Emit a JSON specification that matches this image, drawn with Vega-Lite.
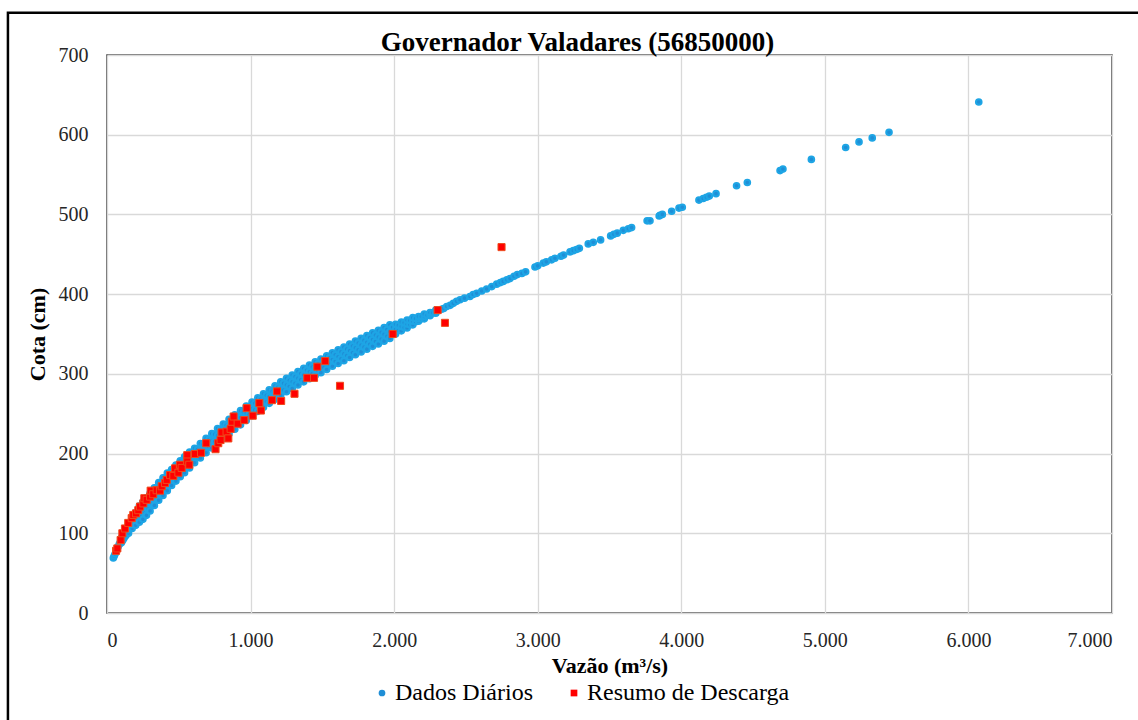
{
  "$schema": "https://vega.github.io/schema/vega-lite/v6.json",
  "width": 1005,
  "height": 558,
  "autosize": {"type": "none"},
  "padding": {"left": 107, "top": 55, "right": 26, "bottom": 107},
  "background": "white",
  "title": {
    "text": "Governador Valadares (56850000)",
    "font": "Liberation Serif",
    "fontSize": 27,
    "fontWeight": "bold",
    "color": "#000000",
    "anchor": "middle",
    "frame": "group",
    "dx": -32,
    "offset": -66,
    "baseline": "alphabetic"
  },
  "datasets": {
    "diarios": [
      {"vazao": 44, "cota": 69}, {"vazao": 50, "cota": 71.5}, {"vazao": 56, "cota": 74}, {"vazao": 63, "cota": 77},
      {"vazao": 70, "cota": 80}, {"vazao": 77, "cota": 83}, {"vazao": 85, "cota": 86}, {"vazao": 92, "cota": 88.5},
      {"vazao": 100, "cota": 88}, {"vazao": 100, "cota": 91}, {"vazao": 100, "cota": 94},
      {"vazao": 108, "cota": 90.5}, {"vazao": 108, "cota": 93.5}, {"vazao": 108, "cota": 96.5},
      {"vazao": 116, "cota": 93}, {"vazao": 116, "cota": 96}, {"vazao": 116, "cota": 99},
      {"vazao": 124, "cota": 95.5}, {"vazao": 124, "cota": 98.5}, {"vazao": 124, "cota": 101.5},
      {"vazao": 133, "cota": 97.5}, {"vazao": 133, "cota": 100.5}, {"vazao": 133, "cota": 103.5},
      {"vazao": 150, "cota": 100}, {"vazao": 150, "cota": 105}, {"vazao": 150, "cota": 110},
      {"vazao": 175, "cota": 106}, {"vazao": 175, "cota": 111}, {"vazao": 175, "cota": 116},
      {"vazao": 188, "cota": 111}, {"vazao": 188, "cota": 118},
      {"vazao": 200, "cota": 110}, {"vazao": 200, "cota": 118}, {"vazao": 200, "cota": 126},
      {"vazao": 212, "cota": 116.5}, {"vazao": 212, "cota": 125.5},
      {"vazao": 225, "cota": 114}, {"vazao": 225, "cota": 124}, {"vazao": 225, "cota": 134},
      {"vazao": 237, "cota": 121}, {"vazao": 237, "cota": 132},
      {"vazao": 250, "cota": 117.5}, {"vazao": 250, "cota": 128.5}, {"vazao": 250, "cota": 139.5},
      {"vazao": 262, "cota": 125.5}, {"vazao": 262, "cota": 136.5},
      {"vazao": 275, "cota": 122.5}, {"vazao": 275, "cota": 133.5}, {"vazao": 275, "cota": 144.5},
      {"vazao": 287, "cota": 130.5}, {"vazao": 287, "cota": 142},
      {"vazao": 300, "cota": 128}, {"vazao": 300, "cota": 139}, {"vazao": 300, "cota": 150},
      {"vazao": 315, "cota": 137}, {"vazao": 315, "cota": 148},
      {"vazao": 330, "cota": 135}, {"vazao": 330, "cota": 146}, {"vazao": 330, "cota": 157},
      {"vazao": 345, "cota": 143.5}, {"vazao": 345, "cota": 155},
      {"vazao": 360, "cota": 141.5}, {"vazao": 360, "cota": 152.5}, {"vazao": 360, "cota": 163.5},
      {"vazao": 375, "cota": 150}, {"vazao": 375, "cota": 161},
      {"vazao": 390, "cota": 147.5}, {"vazao": 390, "cota": 158.5}, {"vazao": 390, "cota": 169.5},
      {"vazao": 405, "cota": 156}, {"vazao": 405, "cota": 167},
      {"vazao": 420, "cota": 153.5}, {"vazao": 420, "cota": 164.5}, {"vazao": 420, "cota": 175.5},
      {"vazao": 435, "cota": 162}, {"vazao": 435, "cota": 172.5},
      {"vazao": 450, "cota": 160}, {"vazao": 450, "cota": 170}, {"vazao": 450, "cota": 180},
      {"vazao": 465, "cota": 167.5}, {"vazao": 465, "cota": 177.5},
      {"vazao": 480, "cota": 165.5}, {"vazao": 480, "cota": 175.5}, {"vazao": 480, "cota": 185.5},
      {"vazao": 495, "cota": 173}, {"vazao": 495, "cota": 183},
      {"vazao": 510, "cota": 171}, {"vazao": 510, "cota": 181}, {"vazao": 510, "cota": 191},
      {"vazao": 525, "cota": 178.5}, {"vazao": 525, "cota": 188.5},
      {"vazao": 540, "cota": 176}, {"vazao": 540, "cota": 186}, {"vazao": 540, "cota": 196},
      {"vazao": 557, "cota": 184}, {"vazao": 557, "cota": 194},
      {"vazao": 575, "cota": 182}, {"vazao": 575, "cota": 192}, {"vazao": 575, "cota": 202},
      {"vazao": 592, "cota": 190}, {"vazao": 592, "cota": 199.5},
      {"vazao": 610, "cota": 188.5}, {"vazao": 610, "cota": 197.5}, {"vazao": 610, "cota": 206.5},
      {"vazao": 630, "cota": 196}, {"vazao": 630, "cota": 205},
      {"vazao": 650, "cota": 194.5}, {"vazao": 650, "cota": 203.5}, {"vazao": 650, "cota": 212.5},
      {"vazao": 670, "cota": 202}, {"vazao": 670, "cota": 211},
      {"vazao": 690, "cota": 201}, {"vazao": 690, "cota": 210}, {"vazao": 690, "cota": 219},
      {"vazao": 710, "cota": 208.5}, {"vazao": 710, "cota": 217.5},
      {"vazao": 730, "cota": 207}, {"vazao": 730, "cota": 216}, {"vazao": 730, "cota": 225},
      {"vazao": 750, "cota": 215}, {"vazao": 750, "cota": 224},
      {"vazao": 770, "cota": 213.5}, {"vazao": 770, "cota": 222.5}, {"vazao": 770, "cota": 231.5},
      {"vazao": 790, "cota": 221}, {"vazao": 790, "cota": 230},
      {"vazao": 810, "cota": 219}, {"vazao": 810, "cota": 228}, {"vazao": 810, "cota": 237},
      {"vazao": 830, "cota": 226.5}, {"vazao": 830, "cota": 235.5},
      {"vazao": 850, "cota": 225}, {"vazao": 850, "cota": 234}, {"vazao": 850, "cota": 243},
      {"vazao": 870, "cota": 232}, {"vazao": 870, "cota": 241},
      {"vazao": 890, "cota": 230.5}, {"vazao": 890, "cota": 239.5}, {"vazao": 890, "cota": 248.5},
      {"vazao": 910, "cota": 238}, {"vazao": 910, "cota": 247},
      {"vazao": 930, "cota": 236}, {"vazao": 930, "cota": 245}, {"vazao": 930, "cota": 254},
      {"vazao": 950, "cota": 243}, {"vazao": 950, "cota": 252},
      {"vazao": 970, "cota": 241.5}, {"vazao": 970, "cota": 250.5}, {"vazao": 970, "cota": 259.5},
      {"vazao": 990, "cota": 249}, {"vazao": 990, "cota": 257.5},
      {"vazao": 1010, "cota": 247.5}, {"vazao": 1010, "cota": 256}, {"vazao": 1010, "cota": 264.5},
      {"vazao": 1030, "cota": 254.5}, {"vazao": 1030, "cota": 263},
      {"vazao": 1050, "cota": 253}, {"vazao": 1050, "cota": 261.5}, {"vazao": 1050, "cota": 270},
      {"vazao": 1070, "cota": 260}, {"vazao": 1070, "cota": 268},
      {"vazao": 1090, "cota": 258}, {"vazao": 1090, "cota": 266.5}, {"vazao": 1090, "cota": 275},
      {"vazao": 1110, "cota": 265}, {"vazao": 1110, "cota": 273},
      {"vazao": 1130, "cota": 263}, {"vazao": 1130, "cota": 271.5}, {"vazao": 1130, "cota": 280},
      {"vazao": 1150, "cota": 270}, {"vazao": 1150, "cota": 278},
      {"vazao": 1170, "cota": 268}, {"vazao": 1170, "cota": 276.5}, {"vazao": 1170, "cota": 285},
      {"vazao": 1190, "cota": 275}, {"vazao": 1190, "cota": 283},
      {"vazao": 1210, "cota": 273}, {"vazao": 1210, "cota": 281.5}, {"vazao": 1210, "cota": 290},
      {"vazao": 1230, "cota": 279.5}, {"vazao": 1230, "cota": 288},
      {"vazao": 1250, "cota": 277.5}, {"vazao": 1250, "cota": 286}, {"vazao": 1250, "cota": 294.5},
      {"vazao": 1270, "cota": 284}, {"vazao": 1270, "cota": 292},
      {"vazao": 1290, "cota": 281.5}, {"vazao": 1290, "cota": 290}, {"vazao": 1290, "cota": 298.5},
      {"vazao": 1310, "cota": 288}, {"vazao": 1310, "cota": 296.5},
      {"vazao": 1330, "cota": 286}, {"vazao": 1330, "cota": 294.5}, {"vazao": 1330, "cota": 303},
      {"vazao": 1350, "cota": 292.5}, {"vazao": 1350, "cota": 300.5},
      {"vazao": 1370, "cota": 290}, {"vazao": 1370, "cota": 298.5}, {"vazao": 1370, "cota": 307},
      {"vazao": 1390, "cota": 296.5}, {"vazao": 1390, "cota": 304.5},
      {"vazao": 1410, "cota": 294}, {"vazao": 1410, "cota": 302.5}, {"vazao": 1410, "cota": 311},
      {"vazao": 1430, "cota": 300.5}, {"vazao": 1430, "cota": 308.5},
      {"vazao": 1450, "cota": 298}, {"vazao": 1450, "cota": 306.5}, {"vazao": 1450, "cota": 315},
      {"vazao": 1470, "cota": 304}, {"vazao": 1470, "cota": 312.5},
      {"vazao": 1490, "cota": 301.5}, {"vazao": 1490, "cota": 310}, {"vazao": 1490, "cota": 318.5},
      {"vazao": 1510, "cota": 308}, {"vazao": 1510, "cota": 316},
      {"vazao": 1530, "cota": 305.5}, {"vazao": 1530, "cota": 314}, {"vazao": 1530, "cota": 322.5},
      {"vazao": 1550, "cota": 312}, {"vazao": 1550, "cota": 320},
      {"vazao": 1570, "cota": 309.5}, {"vazao": 1570, "cota": 318}, {"vazao": 1570, "cota": 326.5},
      {"vazao": 1590, "cota": 315.5}, {"vazao": 1590, "cota": 324},
      {"vazao": 1610, "cota": 313}, {"vazao": 1610, "cota": 321.5}, {"vazao": 1610, "cota": 330},
      {"vazao": 1630, "cota": 319}, {"vazao": 1630, "cota": 327.5},
      {"vazao": 1650, "cota": 316.5}, {"vazao": 1650, "cota": 325}, {"vazao": 1650, "cota": 333.5},
      {"vazao": 1670, "cota": 323}, {"vazao": 1670, "cota": 331},
      {"vazao": 1690, "cota": 320.5}, {"vazao": 1690, "cota": 329}, {"vazao": 1690, "cota": 337.5},
      {"vazao": 1710, "cota": 326.5}, {"vazao": 1710, "cota": 335},
      {"vazao": 1730, "cota": 324}, {"vazao": 1730, "cota": 332.5}, {"vazao": 1730, "cota": 341},
      {"vazao": 1750, "cota": 330}, {"vazao": 1750, "cota": 338.5},
      {"vazao": 1770, "cota": 327.5}, {"vazao": 1770, "cota": 336}, {"vazao": 1770, "cota": 344.5},
      {"vazao": 1790, "cota": 333.5}, {"vazao": 1790, "cota": 342},
      {"vazao": 1810, "cota": 331}, {"vazao": 1810, "cota": 339.5}, {"vazao": 1810, "cota": 348},
      {"vazao": 1830, "cota": 337}, {"vazao": 1830, "cota": 345.5},
      {"vazao": 1850, "cota": 334.5}, {"vazao": 1850, "cota": 343}, {"vazao": 1850, "cota": 351.5},
      {"vazao": 1870, "cota": 340.5}, {"vazao": 1870, "cota": 348.5},
      {"vazao": 1890, "cota": 337.5}, {"vazao": 1890, "cota": 346}, {"vazao": 1890, "cota": 354.5},
      {"vazao": 1910, "cota": 343.5}, {"vazao": 1910, "cota": 352},
      {"vazao": 1930, "cota": 341}, {"vazao": 1930, "cota": 349.5}, {"vazao": 1930, "cota": 358},
      {"vazao": 1950, "cota": 347}, {"vazao": 1950, "cota": 355.5},
      {"vazao": 1970, "cota": 344.5}, {"vazao": 1970, "cota": 353}, {"vazao": 1970, "cota": 361.5},
      {"vazao": 1990, "cota": 350.5}, {"vazao": 1990, "cota": 358.5},
      {"vazao": 2010, "cota": 350}, {"vazao": 2010, "cota": 356}, {"vazao": 2010, "cota": 362},
      {"vazao": 2030, "cota": 354.5}, {"vazao": 2030, "cota": 361},
      {"vazao": 2050, "cota": 354}, {"vazao": 2050, "cota": 359.5}, {"vazao": 2050, "cota": 365},
      {"vazao": 2070, "cota": 358}, {"vazao": 2070, "cota": 364},
      {"vazao": 2090, "cota": 357.5}, {"vazao": 2090, "cota": 362.5}, {"vazao": 2090, "cota": 367.5},
      {"vazao": 2110, "cota": 361.5}, {"vazao": 2110, "cota": 367},
      {"vazao": 2130, "cota": 361.5}, {"vazao": 2130, "cota": 366}, {"vazao": 2130, "cota": 370.5},
      {"vazao": 2150, "cota": 365.5}, {"vazao": 2150, "cota": 369.5},
      {"vazao": 2170, "cota": 366}, {"vazao": 2170, "cota": 369}, {"vazao": 2170, "cota": 372},
      {"vazao": 2190, "cota": 369}, {"vazao": 2190, "cota": 372},
      {"vazao": 2210, "cota": 369}, {"vazao": 2210, "cota": 372}, {"vazao": 2210, "cota": 375},
      {"vazao": 2230, "cota": 373.5},
      {"vazao": 2250, "cota": 373}, {"vazao": 2250, "cota": 375}, {"vazao": 2250, "cota": 377},
      {"vazao": 2270, "cota": 376.5},
      {"vazao": 2290, "cota": 376}, {"vazao": 2290, "cota": 378}, {"vazao": 2290, "cota": 380},
      {"vazao": 2310, "cota": 379.5},
      {"vazao": 2330, "cota": 381}, {"vazao": 2345, "cota": 382},
      {"vazao": 2366, "cota": 384.5}, {"vazao": 2390, "cota": 386}, {"vazao": 2412, "cota": 388.5},
      {"vazao": 2435, "cota": 391}, {"vazao": 2459, "cota": 393}, {"vazao": 2490, "cota": 395},
      {"vazao": 2528, "cota": 397}, {"vazao": 2550, "cota": 399.5}, {"vazao": 2575, "cota": 401},
      {"vazao": 2610, "cota": 404}, {"vazao": 2644, "cota": 406.5}, {"vazao": 2680, "cota": 409.5},
      {"vazao": 2714, "cota": 412.5}, {"vazao": 2740, "cota": 414.5}, {"vazao": 2760, "cota": 416},
      {"vazao": 2785, "cota": 418}, {"vazao": 2807, "cota": 419.5}, {"vazao": 2835, "cota": 422.5},
      {"vazao": 2858, "cota": 424.5}, {"vazao": 2890, "cota": 426}, {"vazao": 2916, "cota": 428},
      {"vazao": 2981, "cota": 434}, {"vazao": 3000, "cota": 435.5}, {"vazao": 3039, "cota": 439},
      {"vazao": 3060, "cota": 440.5}, {"vazao": 3097, "cota": 443}, {"vazao": 3120, "cota": 445},
      {"vazao": 3162, "cota": 447.5}, {"vazao": 3180, "cota": 449}, {"vazao": 3225, "cota": 453},
      {"vazao": 3248, "cota": 454.5}, {"vazao": 3270, "cota": 456}, {"vazao": 3290, "cota": 457.5},
      {"vazao": 3352, "cota": 463}, {"vazao": 3387, "cota": 465}, {"vazao": 3438, "cota": 468},
      {"vazao": 3508, "cota": 473}, {"vazao": 3530, "cota": 475}, {"vazao": 3554, "cota": 476.5},
      {"vazao": 3596, "cota": 480}, {"vazao": 3631, "cota": 482}, {"vazao": 3654, "cota": 483.5},
      {"vazao": 3762, "cota": 492}, {"vazao": 3782, "cota": 492}, {"vazao": 3846, "cota": 498},
      {"vazao": 3852, "cota": 499}, {"vazao": 3868, "cota": 500}, {"vazao": 3933, "cota": 504},
      {"vazao": 3984, "cota": 508}, {"vazao": 4007, "cota": 509}, {"vazao": 4123, "cota": 518},
      {"vazao": 4153, "cota": 520}, {"vazao": 4175, "cota": 521.5}, {"vazao": 4195, "cota": 523},
      {"vazao": 4242, "cota": 526}, {"vazao": 4385, "cota": 536}, {"vazao": 4460, "cota": 540},
      {"vazao": 4688, "cota": 555}, {"vazao": 4708, "cota": 557}, {"vazao": 4906, "cota": 569},
      {"vazao": 5145, "cota": 584}, {"vazao": 5238, "cota": 591}, {"vazao": 5330, "cota": 596},
      {"vazao": 5447, "cota": 603}, {"vazao": 6072, "cota": 641}
    ],
    "descarga": [
      {"vazao": 63, "cota": 78}, {"vazao": 72, "cota": 81}, {"vazao": 95, "cota": 91.5}, {"vazao": 107, "cota": 100},
      {"vazao": 125, "cota": 106}, {"vazao": 148, "cota": 113}, {"vazao": 172, "cota": 119}, {"vazao": 183, "cota": 123},
      {"vazao": 202, "cota": 125}, {"vazao": 218, "cota": 129}, {"vazao": 230, "cota": 133.5}, {"vazao": 253, "cota": 137.5},
      {"vazao": 260, "cota": 144}, {"vazao": 276, "cota": 142}, {"vazao": 300, "cota": 146}, {"vazao": 304, "cota": 153.5},
      {"vazao": 322, "cota": 149}, {"vazao": 346, "cota": 154}, {"vazao": 369, "cota": 153.5}, {"vazao": 381, "cota": 159},
      {"vazao": 404, "cota": 163}, {"vazao": 416, "cota": 167}, {"vazao": 439, "cota": 173}, {"vazao": 462, "cota": 172},
      {"vazao": 474, "cota": 181.5}, {"vazao": 497, "cota": 176}, {"vazao": 508, "cota": 186}, {"vazao": 520, "cota": 182},
      {"vazao": 559, "cota": 198}, {"vazao": 559, "cota": 190}, {"vazao": 573, "cota": 186}, {"vazao": 613, "cota": 199.5},
      {"vazao": 655, "cota": 201}, {"vazao": 691, "cota": 213}, {"vazao": 756, "cota": 205.5}, {"vazao": 775, "cota": 213},
      {"vazao": 791, "cota": 217}, {"vazao": 798, "cota": 226.5}, {"vazao": 833, "cota": 227.5}, {"vazao": 845, "cota": 219},
      {"vazao": 861, "cota": 231}, {"vazao": 870, "cota": 240}, {"vazao": 882, "cota": 246.5}, {"vazao": 910, "cota": 237.5},
      {"vazao": 956, "cota": 242}, {"vazao": 973, "cota": 257}, {"vazao": 1015, "cota": 247.5}, {"vazao": 1061, "cota": 263.5},
      {"vazao": 1072, "cota": 254}, {"vazao": 1149, "cota": 267}, {"vazao": 1184, "cota": 278}, {"vazao": 1213, "cota": 266},
      {"vazao": 1306, "cota": 275}, {"vazao": 1395, "cota": 295}, {"vazao": 1442, "cota": 295}, {"vazao": 1465, "cota": 309},
      {"vazao": 1520, "cota": 316}, {"vazao": 1623, "cota": 285}, {"vazao": 1990, "cota": 350}, {"vazao": 2303, "cota": 380},
      {"vazao": 2354, "cota": 364}, {"vazao": 2748, "cota": 459}
    ]
  },
  "config": {
    "font": "Liberation Serif",
    "view": {"stroke": "#404040", "strokeWidth": 1.5},
    "axis": {
      "labelFont": "Liberation Serif",
      "labelFontSize": 20,
      "labelColor": "#262626",
      "titleFont": "Liberation Serif",
      "titleFontSize": 22,
      "titleFontWeight": "bold",
      "titleColor": "#000000",
      "gridColor": "#d9d9d9",
      "gridWidth": 1.3,
      "domain": false,
      "ticks": false
    },
    "legend": {
      "labelFont": "Liberation Serif",
      "labelFontSize": 24,
      "labelColor": "#000000",
      "labelLimit": 400,
      "padding": 0,
      "symbolStrokeWidth": 0
    }
  },
  "layer": [
    {
      "data": {"name": "diarios"},
      "mark": {"type": "point", "filled": true, "opacity": 1, "stroke": "#1ea5e5", "strokeWidth": 2, "size": 32},
      "encoding": {
        "x": {
          "field": "vazao",
          "type": "quantitative",
          "scale": {"domain": [0, 7000], "nice": false, "zero": false},
          "axis": {
            "title": "Vazão (m³/s)",
            "values": [0, 1000, 2000, 3000, 4000, 5000, 6000, 7000],
            "labelExpr": "replace(format(datum.value, ','), ',', '.')",
            "labelPadding": 17,
            "titlePadding": 5
          }
        },
        "y": {
          "field": "cota",
          "type": "quantitative",
          "scale": {"domain": [0, 700], "nice": false, "zero": false},
          "axis": {
            "title": "Cota (cm)",
            "values": [0, 100, 200, 300, 400, 500, 600, 700],
            "labelPadding": 19,
            "titlePadding": 9
          }
        },
        "color": {
          "datum": "Dados Diários",
          "scale": {"domain": ["Dados Diários", "Resumo de Descarga"], "range": ["#1f8ed6", "#ff0000"]},
          "legend": {
            "title": null,
            "orient": "none",
            "direction": "horizontal",
            "legendX": 263,
            "legendY": 626,
            "symbolSize": 45,
            "symbolStrokeWidth": 0,
            "columnPadding": 29,
            "labelOffset": 1
          }
        },
        "shape": {
          "datum": "Dados Diários",
          "scale": {"domain": ["Dados Diários", "Resumo de Descarga"], "range": ["circle", "square"]}
        }
      }
    },
    {
      "data": {"name": "descarga"},
      "mark": {"type": "point", "filled": true, "opacity": 1, "stroke": "#ee4a1c", "strokeWidth": 1, "size": 50},
      "encoding": {
        "x": {"field": "vazao", "type": "quantitative"},
        "y": {"field": "cota", "type": "quantitative"},
        "color": {"datum": "Resumo de Descarga"},
        "shape": {"datum": "Resumo de Descarga"}
      }
    },
    {
      "data": {"values": [{}]},
      "mark": {"type": "rect", "fillOpacity": 0, "stroke": "#000000", "strokeWidth": 2.5, "clip": false},
      "encoding": {
        "x": {"datum": -690, "type": "quantitative"},
        "x2": {"datum": 7200},
        "y": {"datum": 753, "type": "quantitative"},
        "y2": {"datum": -160}
      }
    }
  ]
}
